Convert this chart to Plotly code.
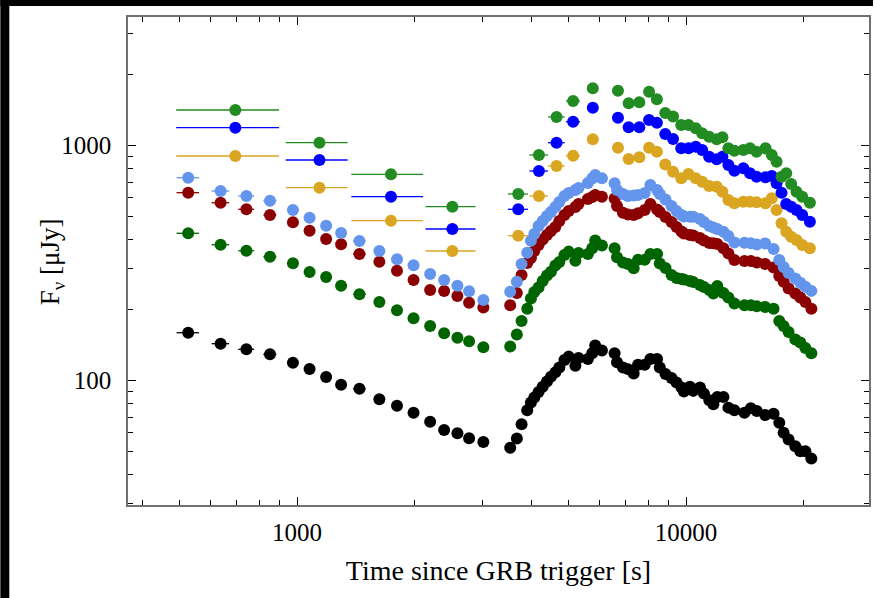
import plotly.graph_objects as go

# ---------------- data ----------------
# lower four bands share one time grid (early + late segment)
t_low = [525, 636, 741, 852, 976, 1077, 1188, 1298, 1447, 1628, 1807, 1993, 2199, 2389, 2584, 2769, 3013,
         3532, 3674, 3778, 3907, 3993, 4074, 4178, 4281, 4391, 4496, 4614, 4725, 4869, 4994, 5195, 5292,
         5595, 5739, 5842, 6079, 6553, 6647, 6886, 7093, 7336, 7529, 7832, 8100, 8426, 8563, 8857, 9180,
         9455, 9738, 9877, 10233, 10440, 10862, 11122, 11482, 11757, 12037, 12480, 12853, 13318, 14135,
         14678, 15206, 15980, 16794, 17370, 17824, 18356, 19099, 19675, 20276, 21006]
t_low_err = [35, 33, 35, 33, 20, 25, 30, 35, 55, 40, 45, 50, 55, 60, 65, 70, 75,
             0, 0, 0, 0, 0, 0, 0, 0, 0, 0, 0, 0, 0, 0, 0, 0, 0, 0, 0, 0, 0, 0, 0, 0, 0, 0, 0, 0, 0, 0,
             0, 0, 0, 0, 0, 0, 0, 0, 0, 0, 0, 0, 0, 0, 0, 0, 0, 0, 0, 0, 0, 0, 0, 0, 0, 0, 0, 0]

f_black = [160, 143.7, 136, 129.5, 119.3, 112.2, 103.7, 96.2, 92.5, 83.3, 78.2, 73.1, 66.9, 61.7, 59.7, 56.9, 54.8,
           51.8, 56.8, 65.3, 74.8, 80.7, 84.8, 89.6, 94.2, 99.2, 103.9, 108.5, 113.9, 122.5, 126.6, 115.8, 124.9,
           123.7, 130.8, 141.1, 134.3, 130.8, 119.8, 113.9, 112.0, 107.4, 117, 117, 123.7, 123.7, 113.9, 106.7,
           102.6, 98.2, 93.6, 89.9, 94.2, 90.5, 93.6, 88.1, 82.5, 79.4, 85.3, 85.3, 76.8, 74.8, 73.1, 76.3, 74.3,
           71.4, 72.4, 66.2, 60.0, 56.2, 52.6, 50.1, 50.1, 46.6]
f_darkgreen = [424, 379, 357.4, 337, 316, 290, 276, 253.7, 233.2, 216.2, 199.4, 184.3, 170.9, 159.1, 152.4, 147.1, 138.7,
               139.7, 157.2, 179.3, 202.5, 223.6, 238.5, 249.2, 265.7, 280.3, 290.9, 309.2, 320.0, 342.6, 354.2,
               324.1, 349.4, 346.0, 366.0, 394.6, 375.8, 366.0, 335.0, 318.7, 313.5, 300.6, 327.3, 327.3, 346.0,
               346.0, 315.6, 301.8, 281.7, 273.5, 270.9, 269.5, 265.7, 263.0, 255.4, 250.4, 243.2, 234.8, 252.9,
               236.2, 225.9, 212.9, 209.4, 209.4, 207.4, 205.9, 202.5, 179.5, 170.9, 161.1, 149.7, 145.4, 137.7, 130.8]
f_darkred = [631, 572, 536.2, 507.1, 472.1, 434.8, 400.9, 380.5, 346, 320.9, 293.8, 268.2, 243.2, 240.8, 229.3, 214.7, 204.8,
             209.4, 236.4, 281.4, 316.9, 332.8, 356.3, 378.0, 399.0, 416.9, 433.5, 450.8, 478.2, 507.2, 527.5,
             548.4, 564.8, 593.2, 604.9, 616.8, 606.7, 596.1, 553.9, 518.7, 509.6, 507.2, 515.6, 532.5, 564.8,
             535.1, 522.4, 497.3, 473.5, 450.8, 431.4, 423.0, 416.9, 414.8, 404.7, 395.0, 385.5, 384.4, 381.8,
             366.0, 347.8, 326.3, 323.2, 323.2, 318.4, 313.8, 303.2, 278.9, 263.6, 246.9, 234.8, 225.8, 216.2, 202.5]
f_cornflower = [730.8, 641.6, 610.9, 583.4, 532.5, 493.8, 456.5, 425.2, 393.0, 356.3, 328.6, 309.8, 284.4, 268.2, 253.7, 240.2, 220.5,
                238.8, 263.6, 313.8, 350.5, 394.2, 421.0, 455.3, 478.2, 502.3, 522.4, 548.4, 576.0, 610.9, 629.0,
                647.8, 660.7, 693.9, 725.1, 750.4, 726.6, 691.8, 647.8, 622.9, 610.9, 613.8, 616.8, 629.0, 680.4,
                647.8, 622.9, 590.3, 553.9, 527.5, 507.2, 499.7, 498.8, 498.8, 487.6, 473.5, 455.3, 448.6, 442.1,
                430.5, 412.8, 387.4, 386.6, 384.4, 379.9, 383.6, 363.5, 326.3, 304.7, 287.3, 272.2, 261.0, 250.9, 241.1]

# upper three bands share another time grid
t_up = [694, 1142, 1744, 2508, 3704, 4187, 4647, 5126, 5760, 6685, 7122, 7586, 8037, 8416, 8846, 9262, 9721,
        10148, 10595, 11003, 11467, 11995, 12405, 12853, 13318, 14041, 14607, 15188, 16017, 16617, 17096,
        17605, 18102, 18642, 19234, 19898, 20822]
t_up_err = [205, 207, 365, 368, 220, 230, 230, 215, 180,
            0, 0, 0, 0, 0, 0, 0, 0, 0, 0, 0, 0, 0, 0, 0, 0, 0, 0, 0, 0, 0, 0, 0, 0, 0, 0, 0, 0]
f_green = [1419, 1030, 755.4, 550.2, 622.9, 912.9, 1325, 1550, 1755, 1714, 1515, 1530, 1697, 1576, 1377, 1331,
           1225, 1225, 1186, 1129, 1092, 1065, 1086, 974.8, 952.2, 958.8, 974.8, 943.0, 974.8, 912.9, 854.9,
           738.2, 763.2, 687.1, 637.4, 606.7, 572.0]
f_blue = [1193, 869.1, 606.7, 442.1, 536.2, 780.2, 1030, 1265, 1451, 1316, 1198, 1198, 1286, 1253, 1121, 1068,
          974.8, 974.8, 990.2, 958.8, 898.0, 875.4, 898.0, 827.8, 782.6, 801.2, 763.2, 738.2, 733.8, 743.3,
          691.8, 631.0, 564.8, 550.2, 532.5, 507.2, 474.9]
f_gold = [904.0, 662.7, 479.6, 356.3, 414.0, 610.9, 819.5, 906.6, 1065, 980.6, 878.0, 892.6, 980.6, 943.0, 831.8,
          775.1, 726.6, 757.9, 726.6, 702.9, 673.9, 669.2, 637.4, 587.4, 568.7, 577.7, 577.7, 574.2, 568.7,
          597.3, 532.5, 467.6, 430.5, 410.1, 396.9, 378.0, 366.0]

x_tickvals = [1000, 10000]
x_ticktext = ["1000", "10000"]
x_minor = [400, 500, 600, 700, 800, 900, 2000, 3000, 4000, 5000, 6000, 7000, 8000, 9000, 20000]
y_tickvals = [100, 1000]
y_ticktext = ["100", "1000"]
y_minor = [30, 40, 50, 60, 70, 80, 90, 200, 300, 400, 500, 600, 700, 800, 900, 2000, 3000]

series = [
    (t_low, t_low_err, f_black, "#000000"),
    (t_low, t_low_err, f_darkgreen, "#006400"),
    (t_low, t_low_err, f_darkred, "#8b0000"),
    (t_low, t_low_err, f_cornflower, "#6495ed"),
    (t_up, t_up_err, f_gold, "#daa520"),
    (t_up, t_up_err, f_blue, "#0000ff"),
    (t_up, t_up_err, f_green, "#228b22"),
]

fig = go.Figure()
for t, te, f, c in series:
    fig.add_trace(go.Scatter(
        x=t, y=f, mode="markers",
        marker=dict(color=c, size=12, line=dict(width=0)),
        error_x=dict(type="data", array=te, visible=True, color=c, thickness=1.3, width=0),
        showlegend=False,
    ))

FONT = "Liberation Serif"
axis_common = dict(
    type="log", showgrid=False, zeroline=False,
    showline=True, linecolor="#707070", linewidth=1.6, mirror="allticks",
    ticks="inside", ticklen=8, tickwidth=1.2, tickcolor="#000000",
    tickfont=dict(family=FONT, size=25, color="#000000"),
)
fig.update_xaxes(
    **axis_common, range=[2.5654, 4.4705],
    tickmode="array", tickvals=x_tickvals, ticktext=x_ticktext, ticklabelstandoff=4,
    minor=dict(tickmode="array", tickvals=x_minor, ticks="inside", ticklen=5, tickwidth=1.2, tickcolor="#000000"),
    title=dict(text="Time since GRB trigger [s]", font=dict(family=FONT, size=28, color="#000000"), standoff=16),
)
fig.update_yaxes(
    **axis_common, range=[1.471, 3.5477],
    tickmode="array", tickvals=y_tickvals, ticktext=y_ticktext, ticklabelstandoff=10,
    minor=dict(tickmode="array", tickvals=y_minor, ticks="inside", ticklen=5, tickwidth=1.2, tickcolor="#000000"),
)

pw, ph = 743.0, 488.0
# y-axis title placed as a rotated annotation
fig.add_annotation(text="F<sub>ν</sub> [μJy]", xref="paper", yref="paper",
                   x=(52 - 128) / pw, y=(505 - 262) / ph, textangle=-90, showarrow=False,
                   xanchor="center", yanchor="middle",
                   font=dict(family=FONT, size=27, color="#000000"))

# black strips along top and left edge of the picture
fig.add_shape(type="rect", xref="paper", yref="paper", layer="above",
              x0=-128 / pw, x1=(9 - 128) / pw, y0=-93 / ph, y1=505 / ph,
              fillcolor="#000000", line=dict(width=0))
fig.add_shape(type="rect", xref="paper", yref="paper", layer="above",
              x0=-128 / pw, x1=747 / pw, y0=(505 - 6) / ph, y1=505 / ph,
              fillcolor="#000000", line=dict(width=0))

fig.update_layout(
    width=875, height=598,
    margin=dict(l=128, r=4, t=17, b=93),
    paper_bgcolor="#ffffff", plot_bgcolor="#ffffff",
    font=dict(family=FONT, color="#000000"),
)

fig.write_html("out.html")
